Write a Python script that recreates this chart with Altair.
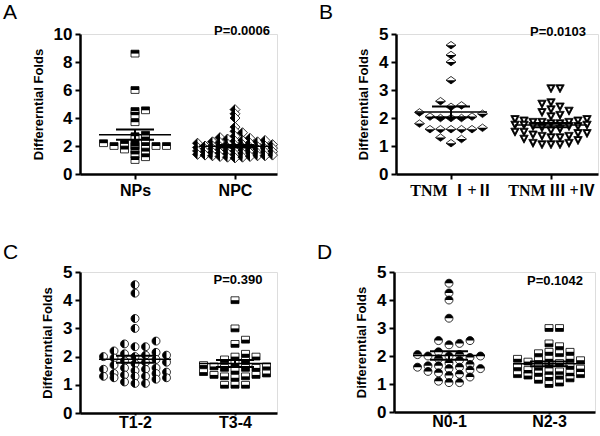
import altair as alt
import pandas as pd

# ---------------- data ----------------
A_NPs = [8.6, 6.0, 4.2, 4.5, 4.55, 3.7, 2.8, 2.7, 2.4, 2.2, 2.2, 2.15, 2.0, 2.0, 2.0,
         2.0, 2.0, 1.75, 1.7, 1.6, 1.4, 1.2, 1.0]
A_NPC = [4.6, 4.3, 4.0, 3.35, 3.05, 2.95, 2.7, 2.6, 2.55, 2.5, 2.4, 2.4, 2.35, 2.3, 2.3,
         2.25, 2.2, 2.2, 2.15, 2.1, 2.1, 2.05, 2.0, 2.0, 2.0, 1.95, 1.95, 1.9, 1.9, 1.9,
         1.9, 1.85, 1.85, 1.8, 1.8, 1.8, 1.75, 1.75, 1.7, 1.7, 1.7, 1.65, 1.65, 1.6, 1.6,
         1.55, 1.55, 1.5, 1.5, 1.5, 1.45, 1.45, 1.4, 1.4, 1.35, 1.35, 1.3, 1.3, 1.3, 1.25,
         1.25, 1.2, 1.2, 1.15]
B_TNM12 = [4.6, 4.25, 4.0, 3.35, 2.6, 2.45, 2.4, 2.2, 2.15, 2.05, 2.0, 2.0, 2.0, 2.05, 1.8,
           1.65, 1.6, 1.6, 1.6, 1.6, 1.6, 1.3, 1.25, 1.1]
B_TNM34 = [3.05, 3.05, 2.55, 2.5, 2.4, 2.3, 2.25, 2.2, 2.1, 2.05, 1.95, 1.95, 1.9, 1.9, 1.85,
           1.85, 1.85, 1.8, 1.8, 1.75, 1.75, 1.75, 1.7, 1.7, 1.7, 1.65, 1.6, 1.55, 1.5, 1.5,
           1.45, 1.45, 1.4, 1.35, 1.35, 1.3, 1.3, 1.25, 1.2, 1.1, 1.1, 1.05, 1.05, 1.05]
C_T12 = [4.55, 4.25, 3.35, 3.0, 2.55, 2.45, 2.35, 2.35, 2.2, 2.15, 2.1, 2.05, 2.05, 2.0, 2.0,
         1.95, 1.9, 1.85, 1.8, 1.8, 1.75, 1.7, 1.6, 1.6, 1.55, 1.55, 1.5, 1.45, 1.4, 1.4,
         1.35, 1.3, 1.3, 1.3, 1.25, 1.25, 1.2, 1.1, 1.05, 1.05]
C_T34 = [4.0, 3.0, 2.6, 2.45, 2.1, 2.0, 2.0, 1.9, 1.85, 1.75, 1.7, 1.65, 1.65, 1.6, 1.6, 1.6,
         1.5, 1.45, 1.4, 1.35, 1.35, 1.3, 1.3, 1.25, 1.0, 1.0, 1.0]
D_N01 = [4.6, 4.25, 4.0, 3.35, 2.55, 2.55, 2.45, 2.4, 2.15, 2.05, 2.05, 2.0, 2.0, 2.0, 1.95,
         1.9, 1.85, 1.75, 1.7, 1.65, 1.65, 1.6, 1.6, 1.55, 1.55, 1.5, 1.45, 1.4, 1.35, 1.3,
         1.25, 1.1, 1.05, 1.05]
D_N23 = [3.0, 3.0, 2.45, 2.35, 2.15, 2.15, 2.1, 2.1, 1.9, 1.9, 1.9, 1.85, 1.85, 1.8, 1.75,
         1.7, 1.65, 1.6, 1.6, 1.55, 1.5, 1.45, 1.45, 1.4, 1.4, 1.35, 1.35, 1.3, 1.3, 1.25,
         1.2, 1.15, 1.05, 1.0]

A_labels = ["NPs", "NPC"]
B_labels = ["TNM  \u2160+\u2161", "TNM \u2162 +\u2163"]
C_labels = ["T1-2", "T3-4"]
D_labels = ["N0-1", "N2-3"]
P_texts = ["P=0.0006", "P=0.0103", "P=0.390", "P=0.1042"]

# ---------------- marker paths ----------------
SQ = "M-1,-0.85H1V0.85H-1Z"
SQ_TOP = "M-1,-0.85H1V0H-1Z"
SQ_BOT = "M-1,0H1V0.85H-1Z"
DI = "M0,-1L1,0L0,1L-1,0Z"
DI_LEFT = "M0,-1L0,1L-1,0Z"
DIB = "M0,-0.75L1,0L0,0.75L-1,0Z"
DIB_BOT = "M-1,0L1,0L0,0.75Z"
CI = "M-1,0A1,1,0,1,1,1,0A1,1,0,1,1,-1,0Z"
CI_LEFT = "M0,-1A1,1,0,0,0,0,1Z"
CI_TOP = "M-1,0A1,1,0,0,1,1,0Z"
TRI = "M-1,-0.9L1,-0.9L0,1Z"
TRI_IN = "M-0.38,-0.55L0.38,-0.55L0,0.15Z"

XPX = 100.0  # pixels per x unit
SANS = "Liberation Sans"
SERIF = "Liberation Serif, Noto Sans CJK JP"


def swarm(vals, ppu, colpx, rowpx, maxk):
    order = sorted(range(len(vals)), key=lambda i: vals[i])
    cand = [0]
    for k in range(1, maxk + 1):
        cand += [k, -k]
    placed = {k: [] for k in cand}
    off = [0.0] * len(vals)
    for i in order:
        y = vals[i] * ppu
        best, bestd = None, -1
        for k in cand:
            d = min([abs(y - p) for p in placed[k]], default=1e9)
            if d >= rowpx:
                best = k
                break
            if d > bestd:
                bestd, best = d, k
        placed[best].append(y)
        off[i] = best * colpx / XPX
    return off


AX = dict(grid=False, domainColor="black", tickColor="black", labelColor="black",
          domainWidth=2.5, tickWidth=2)


def panel(letter, groups, labels, ymax, ystep, ptext, pxy, ppu, width, height,
          lab_font, xlab_pad, xtick, letter_y):
    xs = alt.Scale(domain=[0.45, 0.45 + width / XPX], nice=False, zero=False)
    ys = alt.Scale(domain=[0, ymax], nice=False)
    expr = "datum.value == 1 ? '%s' : '%s'" % (labels[0], labels[1])
    xaxis = alt.Axis(values=[1, 2], labelExpr=expr, title=None, labelFont=lab_font,
                     labelFontSize=16, labelFontWeight="bold", labelPadding=xlab_pad,
                     tickSize=xtick, **AX)
    yaxis = alt.Axis(values=list(range(0, ymax + 1, ystep)), title="Differerntial Folds",
                     titleFont=SANS, titleFontSize=13, titleFontWeight="bold",
                     titleColor="black", titlePadding=8, labelFont=SANS,
                     labelFontSize=17, labelFontWeight="bold", labelPadding=3,
                     tickSize=5, **AX)

    def X(f):
        return alt.X(f, type="quantitative", scale=xs, axis=xaxis)

    def Y(f):
        return alt.Y(f, type="quantitative", scale=ys, axis=yaxis)

    layers = []
    stats = []
    for g in groups:
        vals = g["vals"]
        off = swarm(vals, ppu, g["col"], g["row"], g["maxk"])
        df = pd.DataFrame({"x": [g["cat"] + o for o in off], "y": vals})
        s = pd.Series(vals)
        m, se = s.mean(), s.std() / (len(s) ** 0.5)
        stats.append(dict(cat=g["cat"], mean=m, lo=m - se, hi=m + se))
        base = alt.Chart(df)
        layers.append(base.mark_point(shape=g["full"], filled=True, fill=g["full_fill"],
                                      stroke=g["full_stroke"], strokeWidth=0.8,
                                      size=g["size"], opacity=1)
                      .encode(x=X("x"), y=Y("y")))
        layers.append(base.mark_point(shape=g["half"], filled=True, fill=g["half_fill"],
                                      strokeWidth=0, size=g["size"], opacity=1)
                      .encode(x=X("x"), y=Y("y")))
    st = pd.DataFrame(stats)
    st["mx1"] = st["cat"] - 0.36
    st["mx2"] = st["cat"] + 0.36
    st["sx1"] = st["cat"] - 0.19
    st["sx2"] = st["cat"] + 0.19
    sb = alt.Chart(st)
    layers.append(sb.mark_rule(color="black", strokeWidth=1.5)
                  .encode(x=X("mx1"), x2="mx2", y=Y("mean")))
    layers.append(sb.mark_rule(color="black", strokeWidth=2)
                  .encode(x=X("sx1"), x2="sx2", y=Y("hi")))
    layers.append(sb.mark_rule(color="black", strokeWidth=2)
                  .encode(x=X("sx1"), x2="sx2", y=Y("lo")))
    layers.append(sb.mark_rule(color="black", strokeWidth=2)
                  .encode(x=X("cat"), y=Y("lo"), y2="hi"))
    pdf = pd.DataFrame({"x": [pxy[0]], "y": [pxy[1]], "t": [ptext]})
    layers.append(alt.Chart(pdf).mark_text(font=SANS, fontSize=13, fontWeight="bold",
                                           color="black", baseline="middle", align="center")
                  .encode(x=X("x"), y=Y("y"), text="t:N"))
    ldf = pd.DataFrame({"t": [letter]})
    layers.append(alt.Chart(ldf).mark_text(font=SANS, fontSize=21, color="black",
                                           align="left", baseline="top")
                  .encode(x=alt.value(-77), y=alt.value(letter_y), text="t:N"))
    return alt.layer(*layers).properties(width=width, height=height)


pA = panel("A", [
    dict(vals=A_NPs, cat=1, full=SQ, half=SQ_TOP, full_fill="white", full_stroke="black",
         half_fill="black", size=64, col=10.5, row=4, maxk=3),
    dict(vals=A_NPC, cat=2, full=DI, half=DI_LEFT, full_fill="white", full_stroke="black",
         half_fill="black", size=100, col=7.5, row=4, maxk=5),
], A_labels, 10, 2, P_texts[0], (2.07, 10.2), 14.0, 197, 140, SANS, 3, 5, -32)

pB = panel("B", [
    dict(vals=B_TNM12, cat=1, full=DIB, half=DIB_BOT, full_fill="white", full_stroke="black",
         half_fill="black", size=100, col=10.5, row=7, maxk=4),
    dict(vals=B_TNM34, cat=2, full=TRI, half=TRI_IN, full_fill="black", full_stroke="black",
         half_fill="white", size=72, col=9, row=6, maxk=4),
], B_labels, 5, 1, P_texts[1], (2.07, 5.07), 28.0, 202, 140, SERIF, 3, 5, -32)

pC = panel("C", [
    dict(vals=C_T12, cat=1, full=CI, half=CI_LEFT, full_fill="white", full_stroke="black",
         half_fill="black", size=64, col=10.5, row=6, maxk=3),
    dict(vals=C_T34, cat=2, full=SQ, half=SQ_BOT, full_fill="white", full_stroke="black",
         half_fill="black", size=64, col=10.5, row=7, maxk=3),
], C_labels, 5, 1, P_texts[2], (2.03, 4.72), 28.2, 197, 141, SANS, -1, 2, -30)

pD = panel("D", [
    dict(vals=D_N01, cat=1, full=CI, half=CI_TOP, full_fill="white", full_stroke="black",
         half_fill="black", size=64, col=10.5, row=6, maxk=3),
    dict(vals=D_N23, cat=2, full=SQ, half=SQ_BOT, full_fill="white", full_stroke="black",
         half_fill="black", size=64, col=10.5, row=6, maxk=3),
], D_labels, 5, 1, P_texts[3], (2.06, 4.68), 28.0, 201, 140, SANS, -1, 2, -30)

chart = alt.vconcat(
    alt.hconcat(pA, pB, spacing=38),
    alt.hconcat(pC, pD, spacing=38),
    spacing=42,
).properties(padding={"left": 2, "top": 1, "right": 0, "bottom": 0}
).configure_view(stroke=None).configure(background="white")

chart.save("out.html", embed_options={"renderer": "svg", "actions": False})
